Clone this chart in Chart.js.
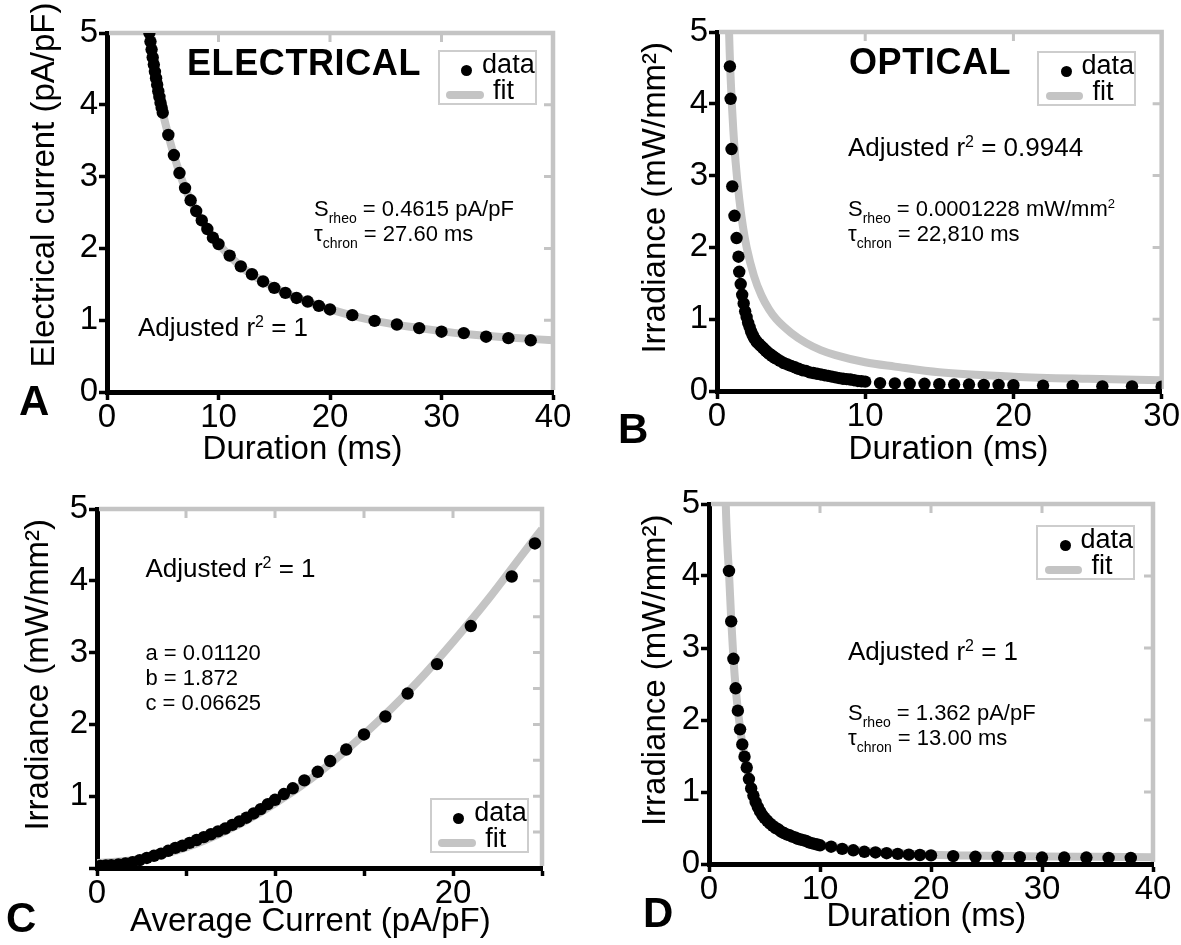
<!DOCTYPE html>
<html>
<head>
<meta charset="utf-8">
<script src="https://cdn.jsdelivr.net/npm/chart.js@4.4.1/dist/chart.umd.min.js"></script>
<style>
body { margin: 0; background: #fff; }
#fig { position: relative; width: 1181px; height: 945px; overflow: hidden; font-family: 'Liberation Sans', Arial, sans-serif; color: #000; }
#fig canvas { position: absolute; }
.txt { position: absolute; white-space: nowrap; line-height: 1; z-index: 2; }
.big { font-weight: bold; font-size: 36px; letter-spacing: 0.6px; }
.letter { font-weight: bold; font-size: 42px; }
.r2 { font-size: 26px; }
.par { font-size: 22px; }
.sub { position: relative; top: 7px; font-size: 14px; }
.sup { position: relative; top: -9px; font-size: 16px; }
.sup2 { position: relative; top: -8px; font-size: 13px; }
.legend { position: absolute; box-sizing: border-box; width: 99px; height: 55px; border: 2px solid #cdcdcd; background: #fff; z-index: 3; }
.legdot { position: absolute; left: 21.5px; top: 12.5px; width: 11px; height: 11px; border-radius: 50%; background: #000; }
.legline { position: absolute; left: 6.5px; top: 38.5px; width: 37.5px; height: 8px; border-radius: 4px; background: #c4c4c4; }
.legtxt { position: absolute; font-size: 27px; line-height: 1; white-space: nowrap; }
</style>
</head>
<body>
<div id="fig">
  <canvas id="cA" width="590" height="472" style="left:0;top:0"></canvas>
  <canvas id="cB" width="591" height="472" style="left:590px;top:0"></canvas>
  <canvas id="cC" width="590" height="473" style="left:0;top:472px"></canvas>
  <canvas id="cD" width="591" height="473" style="left:590px;top:472px"></canvas>

  <div class="txt big" style="left:187px;top:44.5px">ELECTRICAL</div>
  <div class="txt big" style="left:849px;top:43.5px">OPTICAL</div>

  <div class="txt letter" style="left:19px;top:380px">A</div>
  <div class="txt letter" style="left:618px;top:408px">B</div>
  <div class="txt letter" style="left:6px;top:897px">C</div>
  <div class="txt letter" style="left:643px;top:892px">D</div>

  <div class="txt r2" style="left:138px;top:313.5px">Adjusted r<span class="sup">2</span> = 1</div>
  <div class="txt par" style="left:314px;top:198.4px">S<span class="sub">rheo</span> = 0.4615 pA/pF</div>
  <div class="txt par" style="left:314px;top:223.4px">τ<span class="sub">chron</span> = 27.60 ms</div>

  <div class="txt r2" style="left:848px;top:134px">Adjusted r<span class="sup">2</span> = 0.9944</div>
  <div class="txt par" style="left:848px;top:198.4px">S<span class="sub">rheo</span> = 0.0001228 mW/mm<span class="sup2">2</span></div>
  <div class="txt par" style="left:848px;top:223.4px">τ<span class="sub">chron</span> = 22,810 ms</div>

  <div class="txt r2" style="left:145.5px;top:555px">Adjusted r<span class="sup">2</span> = 1</div>
  <div class="txt par" style="left:145.5px;top:642px">a = 0.01120</div>
  <div class="txt par" style="left:145.5px;top:667.4px">b = 1.872</div>
  <div class="txt par" style="left:145.5px;top:692.4px">c = 0.06625</div>

  <div class="txt r2" style="left:848px;top:638px">Adjusted r<span class="sup">2</span> = 1</div>
  <div class="txt par" style="left:848px;top:702px">S<span class="sub">rheo</span> = 1.362 pA/pF</div>
  <div class="txt par" style="left:848px;top:727px">τ<span class="sub">chron</span> = 13.00 ms</div>
</div>

<script>
// ---------------- datos ----------------
// A: estimulacion electrica
const elecDur = [3.8,3.9,4.0,4.1,4.2,4.3,4.4,4.5,4.6,4.7,4.8,4.9,5.0,5.5,6,6.5,7,7.5,8,8.5,9,9.5,10,11,12,13,14,15,16,17,18,19,20,22,24,26,28,30,32,34,36,38];
const elecCur = [5.00,4.88,4.77,4.66,4.56,4.46,4.37,4.28,4.19,4.11,4.03,3.96,3.89,3.58,3.30,3.05,2.84,2.67,2.52,2.39,2.27,2.15,2.06,1.90,1.75,1.64,1.54,1.45,1.38,1.31,1.26,1.20,1.15,1.07,0.99,0.94,0.89,0.84,0.82,0.77,0.75,0.72];
const elecFitDur = [3.65,3.8,4.0,4.5,5.0,5.5,6,7,8,9,10,12,14,16,18,20,24,28,32,36,40];
const elecFitCur = [5.15,5.00,4.77,4.28,3.89,3.58,3.30,2.84,2.52,2.27,2.06,1.75,1.54,1.38,1.26,1.15,0.99,0.89,0.81,0.76,0.72];

// B: estimulacion optica
const optDur = [0.87,0.92,0.98,1.03,1.18,1.32,1.45,1.5,1.6,
  1.7,1.8,1.9,2.0,2.1,2.2,2.3,2.4,2.5,2.6,2.7,2.8,2.9,3.0,3.1,3.2,3.3,3.4,3.5,3.6,3.7,3.8,3.9,4.0,
  4.25,4.5,4.75,5.0,5.25,5.5,5.75,6.0,6.25,6.5,6.75,7.0,7.25,7.5,7.75,8.0,8.25,8.5,8.75,9.0,9.25,9.5,9.75,10,
  11,12,13,14,15,16,17,18,19,20,22,24,26,28,30];
const optIrr = [4.52,4.07,3.37,2.85,2.44,2.13,1.87,1.66,1.49,
  1.34,1.22,1.11,1.03,0.95,0.89,0.83,0.78,0.74,0.71,0.68,0.66,0.64,0.62,0.60,0.58,0.56,0.54,0.52,0.51,0.49,0.48,0.46,0.45,
  0.42,0.39,0.37,0.35,0.33,0.31,0.29,0.28,0.26,0.25,0.24,0.23,0.22,0.21,0.20,0.19,0.18,0.17,0.165,0.16,0.15,0.14,0.135,0.13,
  0.11,0.105,0.10,0.10,0.095,0.09,0.09,0.085,0.085,0.08,0.075,0.07,0.065,0.065,0.06];
const optFitDur = [0.8,0.85,0.9,1.0,1.1,1.25,1.5,1.75,2,2.5,3,3.5,4,5,6,7,8,10,12,15,20,25,30];
const optFitIrr = [5.1,4.75,4.45,4.0,3.64,3.2,2.68,2.29,2.0,1.6,1.33,1.14,1.0,0.81,0.67,0.57,0.50,0.40,0.34,0.26,0.20,0.17,0.15];

// C: irradiancia vs corriente media
const avgCur = [0.2,0.5,0.8,1.2,1.6,2.0,2.4,2.8,3.2,3.6,4.0,4.4,4.8,5.2,5.6,6.0,6.4,6.8,7.2,7.6,8.0,8.4,8.8,9.2,
  9.6,10.0,10.5,11.0,11.65,12.4,13.1,14.0,15.0,16.2,17.45,19.1,21.0,23.3,24.6];
const avgIrr = [0.03,0.035,0.04,0.05,0.065,0.08,0.11,0.14,0.17,0.20,0.24,0.28,0.31,0.35,0.39,0.43,0.47,0.51,0.55,0.60,0.65,0.70,0.76,0.82,
  0.89,0.95,1.03,1.11,1.22,1.34,1.49,1.65,1.86,2.11,2.43,2.84,3.37,4.06,4.52];
const avgFitCur = [0,2,4,6,8,10,12,14,16,18,20,22,24,25];
const avgFitIrr = [0.07,0.11,0.21,0.38,0.61,0.90,1.24,1.64,2.09,2.59,3.15,3.75,4.40,4.72];

// D: irradiancia vs duracion
const eoDur = [1.8,2.0,2.2,2.4,2.6,2.8,3.0,3.2,3.4,3.6,3.8,4.0,4.2,4.4,4.6,4.8,5.0,
  5.25,5.5,5.75,6.0,6.25,6.5,6.75,7.0,7.25,7.5,7.75,8.0,8.25,8.5,8.75,9.0,9.25,9.5,9.75,10,
  11,12,13,14,15,16,17,18,19,20,22,24,26,28,30,32,34,36,38];
const eoIrr = [4.07,3.37,2.85,2.44,2.13,1.87,1.66,1.49,1.34,1.18,1.05,0.95,0.86,0.79,0.73,0.68,0.64,
  0.60,0.56,0.53,0.50,0.48,0.45,0.43,0.41,0.40,0.38,0.37,0.35,0.34,0.33,0.32,0.30,0.29,0.28,0.27,0.26,
  0.24,0.21,0.19,0.17,0.16,0.15,0.14,0.13,0.125,0.12,0.11,0.10,0.10,0.095,0.09,0.09,0.09,0.085,0.085];
const eoFitDur = [1.45,1.55,1.7,1.8,2.0,2.2,2.4,2.6,2.8,3.0,3.5,4,5,6,7,8,10,12,15,20,25,30,35,40];
const eoFitIrr = [5.3,4.8,4.3,4.05,3.4,2.86,2.45,2.14,1.89,1.68,1.28,0.97,0.66,0.50,0.41,0.35,0.27,0.22,0.17,0.13,0.115,0.105,0.10,0.095];

// marcas grises del marco derecho en C (cada 0.5)
const frameTicksC = [0.5,1,1.5,2,2.5,3,3.5,4,4.5];

//----------------------------------------------------------------------------
const FONT = "'Liberation Sans', Arial, sans-serif";
const GRIS = '#c4c4c4';

function toXY(xs, ys) {
  return xs.map((x, i) => ({x: x, y: ys[i]}));
}

// marco gris arriba y a la derecha, con marcas hacia dentro
const framePlugin = {
  id: 'frame',
  beforeDatasetsDraw(chart, args, opts) {
    const ctx = chart.ctx, a = chart.chartArea;
    const xs = chart.scales.x, ys = chart.scales.y;
    const xv = opts.xTicks || xs.ticks.map(t => t.value);
    const yv = opts.yTicks || ys.ticks.map(t => t.value);
    ctx.save();
    ctx.strokeStyle = opts.color;
    ctx.lineWidth = 4.5;
    ctx.beginPath();
    ctx.moveTo(a.left + 2, a.top);
    ctx.lineTo(a.right, a.top);
    ctx.lineTo(a.right, a.bottom - 2);
    ctx.stroke();
    ctx.lineWidth = 3;
    ctx.beginPath();
    xv.forEach(v => {
      if (v <= xs.min || v >= xs.max) return;
      const px = xs.getPixelForValue(v);
      ctx.moveTo(px, a.top); ctx.lineTo(px, a.top + 9);
    });
    yv.forEach(v => {
      if (v <= ys.min || v >= ys.max) return;
      const py = ys.getPixelForValue(v);
      ctx.moveTo(a.right, py); ctx.lineTo(a.right - 9, py);
    });
    ctx.stroke();
    ctx.restore();
  }
};

function panel(id, p) {
  const tickFont = {family: FONT, size: 33, lineHeight: 1};
  const titleFont = {family: FONT, size: 33};
  const xTicks = {stepSize: p.xStep, autoSkip: false, maxRotation: 0, padding: 1, font: tickFont, color: '#000'};
  const yTicks = {stepSize: 1, autoSkip: false, padding: 1, font: tickFont, color: '#000'};
  if (p.xLabel) xTicks.callback = p.xLabel;
  if (p.yLabel) yTicks.callback = p.yLabel;
  return new Chart(document.getElementById(id), {
    type: 'scatter',
    data: {
      datasets: [
        { label: 'data', data: toXY(p.dataX, p.dataY), showLine: false,
          pointRadius: 6.2, pointBorderWidth: 0, backgroundColor: '#000', pointBackgroundColor: '#000',
          clip: 0, order: 0 },
        { label: 'fit', data: toXY(p.fitX, p.fitY), showLine: true, pointRadius: 0,
          borderColor: GRIS, borderWidth: 8, cubicInterpolationMode: 'monotone',
          clip: 0, order: 1 }
      ]
    },
    options: {
      responsive: false,
      animation: false,
      events: [],
      layout: { autoPadding: false, padding: p.pad },
      plugins: {
        legend: { display: false },
        tooltip: { enabled: false },
        frame: { color: GRIS, yTicks: p.frameY }
      },
      scales: {
        x: {
          type: 'linear', min: 0, max: p.xMax,
          afterFit: s => { s.height = p.xH; },
          ticks: xTicks,
          grid: { drawOnChartArea: false, tickLength: 8, tickWidth: 3.5, tickColor: '#000' },
          border: { color: '#000', width: 5 },
          title: { display: true, text: p.xTitle, color: '#000', font: titleFont, padding: {top: 0, bottom: 0} }
        },
        y: {
          type: 'linear', min: 0, max: 5,
          afterFit: s => { s.width = p.yW; },
          ticks: yTicks,
          grid: { drawOnChartArea: false, tickLength: 8, tickWidth: 3.5, tickColor: '#000' },
          border: { color: '#000', width: 5 },
          title: { display: true, text: p.yTitle, color: '#000', font: titleFont, padding: {top: p.yTitlePad, bottom: 0} }
        }
      }
    },
    plugins: [framePlugin]
  });
}

function addLegend(chart, left, top) {
  const box = document.createElement('div');
  box.className = 'legend';
  box.style.left = left + 'px';
  box.style.top = top + 'px';
  chart.data.datasets.forEach(ds => {
    const mark = document.createElement('div');
    const label = document.createElement('div');
    label.className = 'legtxt';
    label.textContent = ds.label;
    if (ds.showLine) {
      mark.className = 'legline';
      label.style.left = '53.5px'; label.style.top = '25px';
    } else {
      mark.className = 'legdot';
      label.style.left = '42.5px'; label.style.top = '-1px';
    }
    box.appendChild(mark);
    box.appendChild(label);
  });
  document.getElementById('fig').appendChild(box);
}

//----------------------------------------------------------------------------
const chartA = panel('cA', {
  dataX: elecDur, dataY: elecCur, fitX: elecFitDur, fitY: elecFitCur,
  xMax: 40, xStep: 10,
  pad: {left: 0, top: 33, right: 37, bottom: 2}, xH: 78, yW: 107, yTitlePad: 25,
  xTitle: 'Duration (ms)      ', yTitle: '      Electrical current (pA/pF)'
});
const chartB = panel('cB', {
  dataX: optDur, dataY: optIrr, fitX: optFitDur, fitY: optFitIrr,
  xMax: 30, xStep: 10,
  pad: {left: 0, top: 32, right: 18, bottom: 2}, xH: 79, yW: 127, yTitlePad: 46,
  xTitle: '  Duration (ms)', yTitle: '   Irradiance (mW/mm²)'
});
const chartC = panel('cC', {
  dataX: avgCur, dataY: avgIrr, fitX: avgFitCur, fitY: avgFitIrr,
  xMax: 25, xStep: 5, frameY: frameTicksC,
  xLabel: v => (v % 10 === 0 ? v : ''), yLabel: v => (v === 0 ? '' : v),
  pad: {left: 0, top: 37, right: 48, bottom: 3}, xH: 74, yW: 97, yTitlePad: 19,
  xTitle: 'Average Current (pA/pF)  ', yTitle: '   Irradiance (mW/mm²)'
});
const chartD = panel('cD', {
  dataX: eoDur, dataY: eoIrr, fitX: eoFitDur, fitY: eoFitIrr,
  xMax: 40, xStep: 10,
  pad: {left: 0, top: 32, right: 28, bottom: 8}, xH: 73, yW: 119, yTitlePad: 46,
  xTitle: 'Duration (ms) ', yTitle: '   Irradiance (mW/mm²)'
});

addLegend(chartA, 437.6, 50.2);
addLegend(chartB, 1037, 51);
addLegend(chartC, 429.7, 798);
addLegend(chartD, 1036, 525);
</script>
</body>
</html>
